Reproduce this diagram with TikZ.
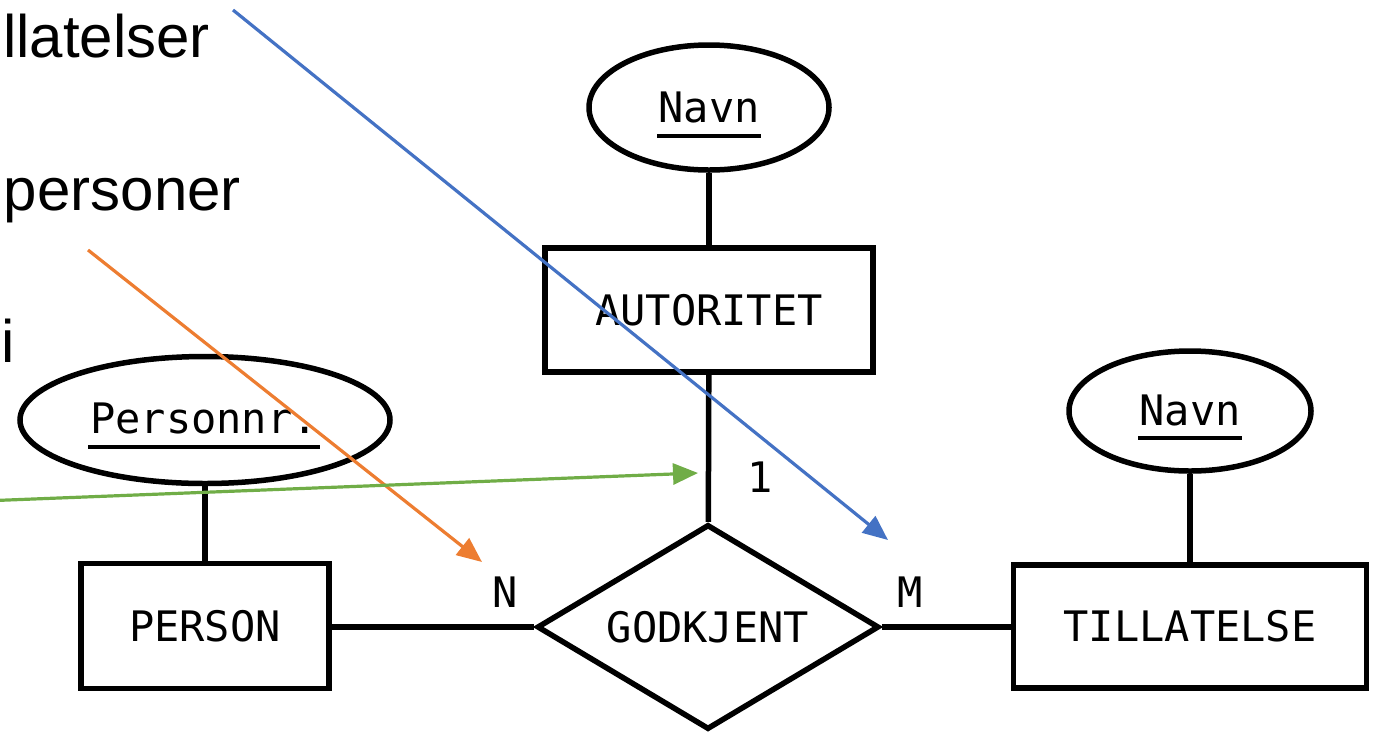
\documentclass[tikz,border=0pt]{standalone}
\usepackage{fontspec}
\usetikzlibrary{shapes.geometric,arrows.meta}
\newfontfamily\erfont{DejaVu Sans Mono}
\newfontfamily\notefont{Liberation Sans}
\definecolor{noteblue}{HTML}{4472C4}
\definecolor{noteorange}{HTML}{ED7D31}
\definecolor{notegreen}{HTML}{70AD47}
\tikzset{
  ertext/.style={font=\erfont\fontsize{42}{50}\selectfont, inner sep=0pt},
  entity/.style={draw, line width=5.5pt, rectangle, inner sep=0pt, ertext},
  relation/.style={draw, line width=5.5pt, diamond, aspect=1.67, inner sep=0pt, ertext},
  attribute/.style={draw, line width=5.5pt, ellipse, inner sep=0pt},
  link/.style={line width=5.5pt},
  keyline/.style={line width=4.5pt},
  notetext/.style={font=\notefont\fontsize{60}{72}\selectfont, inner sep=0pt},
  pointer/.style={line width=3.2pt, -{Triangle[length=25pt,width=21pt]}},
}
\begin{document}
\begin{tikzpicture}[x=1pt,y=-1pt]
\useasboundingbox (0,0) rectangle (1376,732);
\clip (0,0) rectangle (1376,732);

% side notes (cut off at the left edge)
\node[notetext, anchor=base east] (n1) at (210,57) {llatelser};
\node[notetext, anchor=base east] (n2) at (241,210) {personer};
\node[notetext, anchor=base west] (n3) at (1,362) {i};

% entities
\node[entity, minimum width=328pt, minimum height=124pt] (aut) at (709,310) {AUTORITET};
\node[entity, minimum width=248pt, minimum height=125pt] (pers) at (205,626) {PERSON};
\node[entity, minimum width=353pt, minimum height=123pt] (till) at (1190,626.5) {TILLATELSE};

% relationship
\node[relation, minimum width=342pt, minimum height=205pt] (rel) at (708,627) {GODKJENT};

% attributes
\node[attribute, minimum width=240pt, minimum height=125pt] (navnA) at (709,107.5) {};
\node[ertext, anchor=base] (navnAt) at (709,122) {Navn};
\draw[keyline] ([xshift=-1pt,yshift=-14pt]navnAt.base west) -- ([xshift=1pt,yshift=-14pt]navnAt.base east);

\node[attribute, minimum width=370pt, minimum height=127pt] (pnr) at (205,420) {};
\node[ertext, anchor=base] (pnrt) at (204,433) {Personnr.};
\draw[keyline] ([xshift=-2pt,yshift=-14pt]pnrt.base west) -- ([xshift=2pt,yshift=-14pt]pnrt.base east);

\node[attribute, minimum width=242pt, minimum height=120pt] (navnT) at (1190,411) {};
\node[ertext, anchor=base] (navnTt) at (1190,425) {Navn};
\draw[keyline] ([xshift=-1pt,yshift=-13pt]navnTt.base west) -- ([xshift=1pt,yshift=-13pt]navnTt.base east);

% connectors
\draw[link] (navnA) -- (aut);
\draw[link] (aut) -- (rel);
\draw[link] (pnr) -- (pers);
\draw[link] (navnT) -- (till);
\draw[link] (pers.east |- rel.west) -- (rel.west);
\draw[link] (rel.east) -- (till.west |- rel.east);

% cardinalities
\node[ertext, anchor=base] (c1) at (760,492) {1};
\node[ertext, anchor=base] (cN) at (505,607) {N};
\node[ertext, anchor=base] (cM) at (910,607) {M};

% annotation arrows
\coordinate (bstart) at (233,10);
\coordinate (btip) at (888,540);
\coordinate (ostart) at (88,250);
\coordinate (otip) at (482,562);
\coordinate (gstart) at (-5,500.5);
\coordinate (gtip) at (698,473);
\draw[pointer, noteblue] (bstart) -- (btip);
\draw[pointer, noteorange] (ostart) -- (otip);
\draw[pointer, notegreen] (gstart) -- (gtip);
\end{tikzpicture}
\end{document}
